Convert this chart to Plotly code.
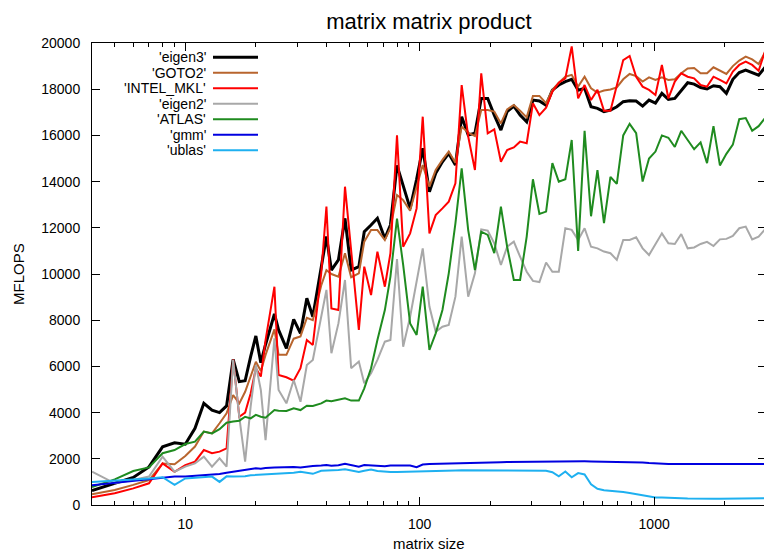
import math
import plotly.graph_objects as go

sizes = [4, 5, 6, 7, 8, 9, 10, 11, 12, 13, 14, 15, 16,
         17, 18, 19, 20, 21, 22, 24, 25, 27, 29,
         31, 33, 35, 38, 40, 42, 45, 48, 51, 55,
         58, 62, 66, 71, 75, 80, 85, 91, 97, 103,
         110, 117, 125, 133, 142, 151, 161, 172, 183, 195,
         208, 222, 236, 252, 268, 286, 304, 324, 346, 368,
         392, 418, 445, 474, 505, 538, 573, 611, 651, 693,
         738, 786, 838, 893, 951, 1013, 1079, 1150, 1225, 1305,
         1390, 1481, 1578, 1681, 1791, 1908, 2033, 2166, 2307, 2458,
         2619, 2790, 3000]

eigen3 = [620, 935, 1190, 1650, 2520, 2690, 2630, 3320, 4400, 4110, 4000, 4290, 6300,
          5340, 5380, 6420, 7320, 6160, 6950, 8270, 7580, 6780, 8040,
          7430, 8950, 8150, 10320, 11620, 10170, 10610, 12410, 10170, 10320,
          11830, 12120, 12410, 11540, 12120, 14700, 13850, 12840, 14100, 15440,
          13560, 14360, 14860, 15220, 14720, 16810, 16020, 16090, 17600, 17600,
          16880, 16230, 17030, 17270, 16880, 16590, 17530, 17490, 17300, 17960,
          18180, 18330, 18430, 17960, 18040, 17240, 17170, 17030, 17100, 17240,
          17460, 17500, 17490, 17270, 17530, 17400, 17820, 17560, 17600, 17960,
          18280, 18220, 18070, 18010, 18150, 18110, 17820, 18430, 18720, 18830,
          18730, 18610, 19000]

goto2 = [460, 650, 870, 1080, 1800, 1760, 2120, 2530, 3180, 3100, 3540, 3970, 4760,
         4400, 4900, 5600, 6200, 5800, 6500, 7600, 6500, 6500, 7200,
         7300, 8100, 8000, 9500, 10170, 10000, 9880, 10900, 9860, 10030,
         11400, 11900, 11900, 11470, 12000, 13420, 13200, 12740, 13780, 14720,
         13780, 14500, 14940, 15300, 14820, 16380, 16120, 15970, 17100, 17100,
         17030, 16520, 17130, 17320, 17070, 16780, 17710, 17710, 17390, 17970,
         18280, 18540, 18620, 18110, 18540, 18040, 17850, 17940, 17990, 18080,
         18430, 18660, 18570, 18330, 18510, 18400, 18510, 18400, 18430, 18690,
         18900, 18920, 18690, 18690, 18950, 18800, 18660, 19000, 19240, 19410,
         19290, 19090, 19670]

intel_mkl = [330, 505, 720, 940, 1800, 1440, 1730, 1880, 2380, 2240, 2310, 2450, 6300,
             3820, 4000, 4830, 5920, 5560, 7140, 9450, 5630, 5530, 5380,
             5920, 7140, 6930, 10030, 12920, 8510, 8440, 13780, 10900, 7580,
             10320, 9090, 10970, 9450, 10900, 16000, 11180, 11760, 12840, 16810,
             11760, 12550, 12840, 13130, 13930, 18180, 15950, 14500, 18690, 16090,
             16260, 14860, 15370, 15480, 15730, 15660, 17390, 16880, 17200, 17890,
             18280, 18470, 19850, 17600, 18180, 17530, 17970, 17070, 17070, 18180,
             19260, 19440, 18540, 18110, 17970, 17750, 19050, 17600, 18330, 18690,
             18540, 18470, 18180, 18110, 18540, 18400, 18250, 18760, 19050, 19190,
             19050, 18800, 19770]

eigen2 = [1440, 940, 1080, 1230, 2090, 1440, 1660, 1800, 2090, 1660, 2020, 1660, 6280,
          3800, 1880, 4260, 6060, 4980, 2810, 7220, 4980, 4400, 5410,
          4470, 6060, 6280, 8150, 9310, 6570, 7860, 9740, 5920, 6210,
          5270, 5700, 6280, 7070, 7140, 10650, 6850, 8150, 9740, 11110,
          8590, 7500, 7720, 7790, 9020, 11620, 9020, 10030, 11930, 11880,
          11330, 10390, 11180, 11400, 10750, 10100, 9700, 9650, 10500, 10100,
          10100, 11980, 11910, 11470, 11980, 11180, 11110, 10970, 10900, 10610,
          11470, 11470, 11590, 11110, 10820, 11300, 11760, 11330, 11300, 11730,
          11110, 11150, 11300, 11390, 11210, 11500, 11520, 11650, 11980, 12050,
          11500, 11620, 11980]

atlas = [780, 1110, 1470, 1630, 2240, 2380, 2640, 2740, 3180, 3100, 3280, 3560, 3610,
         3650, 3820, 3750, 3900, 3820, 3780, 4110, 4080, 4070, 4190,
         4110, 4300, 4290, 4400, 4520, 4490, 4550, 4620, 4520, 4520,
         5050, 5920, 7140, 8440, 9890, 12400, 10390, 7860, 7360, 9450,
         6710, 7430, 8440, 10030, 12190, 14570, 11900, 10170, 11830, 11690,
         10900, 12920, 11180, 9740, 9740, 11620, 14100, 12600, 12700, 14800,
         14000, 14100, 15800, 11000, 16200, 12500, 14500, 12200, 14200, 13900,
         16000, 16500, 16100, 14000, 15000, 15300, 16000, 15900, 15500, 16200,
         15800, 15400, 15700, 14800, 16400, 14700, 15200, 15600, 16700, 16750,
         16200, 16400, 16800]

gmm = [850, 950, 1030, 1110, 1180, 1230, 1230, 1255, 1285, 1315, 1340, 1400, 1440,
       1490, 1520, 1560, 1590, 1570, 1600, 1620, 1630, 1620, 1640,
       1620, 1660, 1690, 1710, 1730, 1700, 1720, 1780, 1740, 1660,
       1730, 1720, 1700, 1680, 1710, 1700, 1720, 1710, 1640, 1750,
       1770, 1780, 1790, 1800, 1810, 1820, 1830, 1840, 1840, 1845,
       1850, 1855, 1860, 1865, 1870, 1870, 1875, 1875, 1878, 1880,
       1882, 1885, 1885, 1888, 1890, 1888, 1885, 1882, 1880, 1880,
       1878, 1876, 1860, 1845, 1820, 1800, 1790, 1780, 1780, 1780,
       1780, 1780, 1780, 1785, 1785, 1785, 1780, 1780, 1785, 1785,
       1785, 1785, 1780]

ublas = [1000, 1050, 1100, 1150, 1200, 870, 1150, 1190, 1210, 1230, 1000, 1240, 1230,
         1230, 1250, 1290, 1300, 1310, 1320, 1340, 1360, 1380, 1400,
         1440, 1380, 1350, 1480, 1490, 1490, 1520, 1550, 1490, 1430,
         1480, 1540, 1470, 1440, 1430, 1430, 1440, 1440, 1450, 1460,
         1470, 1480, 1485, 1490, 1495, 1500, 1500, 1505, 1505, 1500,
         1495, 1490, 1490, 1490, 1495, 1495, 1490, 1490, 1486, 1420,
         1240, 1450, 1200, 1380, 1320, 900, 700, 640, 620, 590,
         560, 520, 470, 420, 370, 330, 320, 300, 310, 290,
         280, 270, 270, 270, 270, 270, 270, 270, 270, 275,
         275, 275, 290]

series_names = ["'eigen3'", "'GOTO2'", "'INTEL_MKL'", "'eigen2'", "'ATLAS'", "'gmm'", "'ublas'"]
series_values = [eigen3, goto2, intel_mkl, eigen2, atlas, gmm, ublas]
series_colors = ["#000000", "#b8652e", "#ff0000", "#a8a8a8", "#1f8b1f", "#0000e0", "#1eb0f0"]
series_widths = [3, 2, 2, 2, 2, 2, 2]

x_major = [10, 100, 1000]
x_major_text = ["10", "100", "1000"]
x_minor = [4, 5, 6, 7, 8, 9, 20, 30, 40, 50, 60, 70, 80, 90,
           200, 300, 400, 500, 600, 700, 800, 900, 2000, 3000]
y_ticks = [0, 2000, 4000, 6000, 8000, 10000, 12000, 14000, 16000, 18000, 20000]
y_tick_text = ["0", "2000", "4000", "6000", "8000", "10000", "12000", "14000", "16000", "18000", "20000"]

FONT = "Liberation Sans, Arial, Helvetica, sans-serif"
OFF = 8  # page body margin offset
PAGE_W, PAGE_H = 772, 555
W, H = PAGE_W - OFF, PAGE_H - OFF
# plot area in page pixels: x 92..766, y 43..505
L, T = 92 - OFF, 43 - OFF
R = W - (766 - OFF)
B = H - (505 - OFF)
PW, PH = W - L - R, H - T - B


def px_x(page_x):
    return (page_x - 92) / PW


def px_y(page_y):
    return (505 - page_y) / PH


fig = go.Figure()
for name, vals, col, lw in zip(series_names, series_values, series_colors, series_widths):
    fig.add_trace(go.Scatter(x=sizes, y=vals, mode="lines", name=name,
                             line=dict(color=col, width=lw), showlegend=False))

# gnuplot-style legend: text right-aligned, line sample to the right
leg_y_px = [57.3, 72.8, 88.3, 103.8, 119.3, 134.8, 150.3]
annotations = []
shapes = []
for name, col, lw, ypx in zip(series_names, series_colors, series_widths, leg_y_px):
    yp = px_y(ypx)
    annotations.append(dict(x=px_x(208), y=yp, xref="paper", yref="paper",
                            text=name, showarrow=False, xanchor="right", yanchor="middle",
                            font=dict(family=FONT, size=14, color="black")))
    shapes.append(dict(type="line", xref="paper", yref="paper",
                       x0=px_x(213), x1=px_x(258), y0=yp, y1=yp,
                       line=dict(color=col, width=lw)))

annotations.append(dict(x=0.5, y=px_y(543), xref="paper", yref="paper",
                        text="matrix size", showarrow=False, xanchor="center", yanchor="middle",
                        font=dict(family=FONT, size=15, color="black")))
annotations.append(dict(x=px_x(18), y=0.5, xref="paper", yref="paper",
                        text="MFLOPS", showarrow=False, xanchor="center", yanchor="middle",
                        textangle=-90, font=dict(family=FONT, size=15, color="black")))

fig.update_layout(
    width=W, height=H,
    margin=dict(l=L, r=R, t=T, b=B, pad=0),
    paper_bgcolor="white", plot_bgcolor="white",
    font=dict(family=FONT, size=14, color="black"),
    title=dict(text="matrix matrix product", x=(L + PW / 2) / W, xanchor="center",
               y=1 - (21 - OFF) / H, yanchor="middle", font=dict(family=FONT, size=22, color="black")),
    annotations=annotations, shapes=shapes,
    xaxis=dict(type="log", range=[math.log10(4), math.log10(3000)],
               tickvals=x_major, ticktext=x_major_text,
               ticks="inside", ticklen=8, tickwidth=1, tickcolor="black",
               minor=dict(tickvals=x_minor, ticks="inside", ticklen=4, tickwidth=1, tickcolor="black", showgrid=False),
               showline=True, linecolor="black", linewidth=1, mirror="allticks",
               showgrid=False, zeroline=False, tickfont=dict(size=14), ticklabelstandoff=6),
    yaxis=dict(range=[0, 20000], tickvals=y_ticks, ticktext=y_tick_text,
               ticks="inside", ticklen=8, tickwidth=1, tickcolor="black",
               showline=True, linecolor="black", linewidth=1, mirror="allticks",
               showgrid=False, zeroline=False, tickfont=dict(size=14), ticklabelstandoff=8),
)

fig.write_html("out.html")
